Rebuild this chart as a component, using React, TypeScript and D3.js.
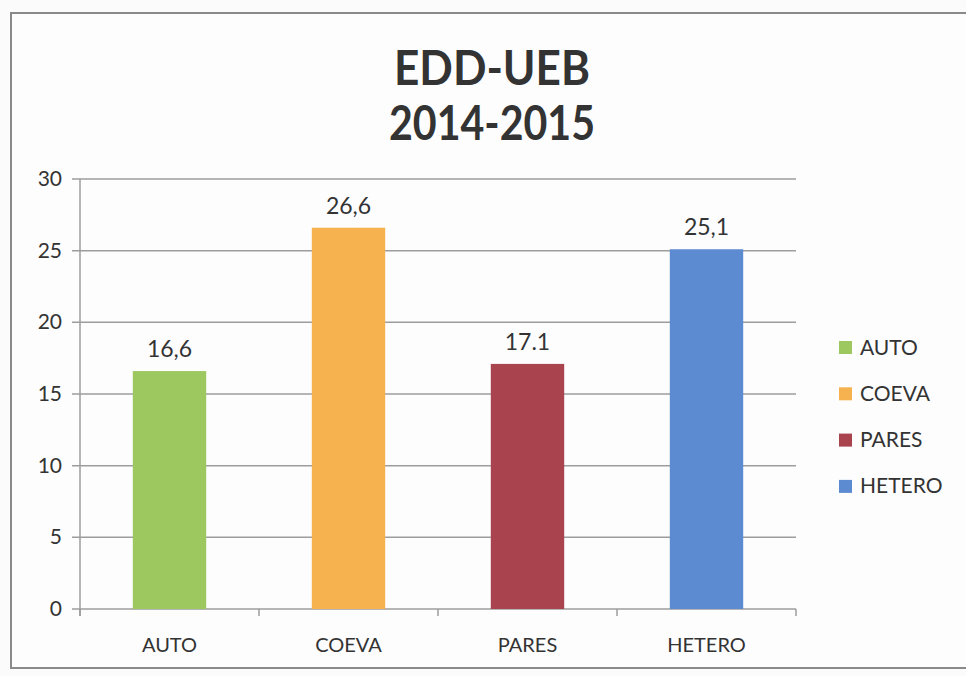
import React from "react";
import * as d3 from "d3";

const categories = ["AUTO", "COEVA", "PARES", "HETERO"];
const values = [16.6, 26.6, 17.1, 25.1];
const valueLabels = ["16,6", "26,6", "17.1", "25,1"];
const colors = ["#9DC860", "#F5B24E", "#A9444E", "#5D8BD2"];
const yTicks = [0, 5, 10, 15, 20, 25, 30];
const titleLines = ["EDD-UEB", "2014-2015"];

const W = 966;
const H = 676;
const FONT = "Lato, 'Open Sans', sans-serif";

export default function App() {
  const x = d3.scaleBand<string>().domain(categories).range([80, 796]).paddingInner(0.59).paddingOuter(0.295);
  const y = d3.scaleLinear().domain([0, 30]).range([609, 179]);
  const bandStep = x.step();
  const boundaries = d3.range(categories.length + 1).map((i) => 80 + i * bandStep);

  return (
    <svg width={W} height={H} style={{ position: "absolute", left: 0, top: 0, background: "#fbfbfb" }}>
      <rect x={0} y={0} width={W} height={H} fill="#fbfbfb" />
      {/* chart frame */}
      <rect x={11} y={13} width={W + 10} height={655} fill="#fdfdfd" stroke="#8a8a8a" strokeWidth={2} />

      {/* title */}
      {titleLines.map((t, i) => (
        <text key={t} x={492} y={85 + i * 55} textAnchor="middle" fontFamily={FONT} fontWeight={700} fontSize={48}
          fill="#333333" textLength={i === 0 ? 196 : 206} lengthAdjust="spacingAndGlyphs">
          {t}
        </text>
      ))}

      {/* gridlines and y ticks */}
      {yTicks.map((v) => (
        <g key={v}>
          <line x1={72} x2={796} y1={y(v)} y2={y(v)} stroke="#9d9d9d" strokeWidth={1.5} />
          <text x={62} y={y(v) + 7} textAnchor="end" fontFamily={FONT} fontSize={21} fill="#333333">
            {v}
          </text>
        </g>
      ))}
      {/* y axis */}
      <line x1={80} x2={80} y1={y(30)} y2={y(0) + 7} stroke="#9d9d9d" strokeWidth={1.5} />
      {/* x category ticks */}
      {boundaries.map((bx, i) => (
        <line key={i} x1={bx} x2={bx} y1={y(0)} y2={y(0) + 7} stroke="#9d9d9d" strokeWidth={1.5} />
      ))}

      {/* bars */}
      {categories.map((c, i) => (
        <g key={c}>
          <rect x={x(c)} y={y(values[i])} width={x.bandwidth()} height={y(0) - y(values[i])} fill={colors[i]} />
          <text x={(x(c) as number) + x.bandwidth() / 2} y={y(values[i]) - 14} textAnchor="middle" fontFamily={FONT}
            fontSize={23} fill="#333333">
            {valueLabels[i]}
          </text>
          <text x={(x(c) as number) + x.bandwidth() / 2} y={652} textAnchor="middle" fontFamily={FONT} fontSize={20}
            fill="#333333">
            {c}
          </text>
        </g>
      ))}

      {/* legend */}
      {categories.map((c, i) => (
        <g key={"lg" + c} transform={`translate(839, ${347 + i * 46.3})`}>
          <rect x={0} y={-6} width={13} height={13} fill={colors[i]} />
          <text x={21} y={7.5} fontFamily={FONT} fontSize={21} fill="#333333">
            {c}
          </text>
        </g>
      ))}
    </svg>
  );
}
